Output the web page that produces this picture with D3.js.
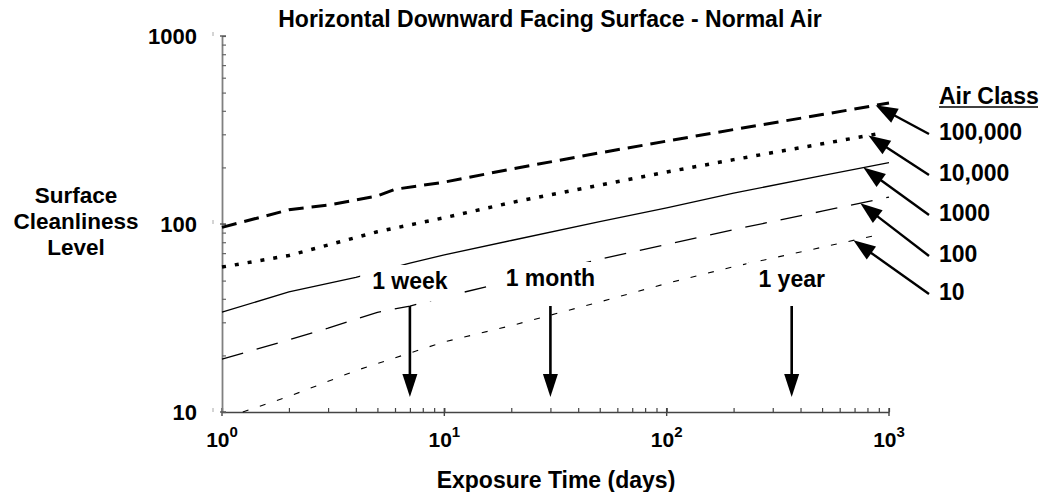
<!DOCTYPE html>
<html>
<head>
<meta charset="utf-8">
<script src="https://cdn.jsdelivr.net/npm/d3@7"></script>
<style>
  html, body { margin: 0; padding: 0; background: #fff; }
  svg { display: block; }
  text { font-family: "Liberation Sans", Arial, sans-serif; font-weight: bold; fill: #000; }
</style>
</head>
<body>
<svg id="chart" width="1044" height="492"></svg>
<script>
// ---- data ----
const chartTitle = "Horizontal Downward Facing Surface - Normal Air";
const xTitle = "Exposure Time (days)";
const yTitleLines = ["Surface", "Cleanliness", "Level"];
const xMajorTicks = [1, 10, 100, 1000];
const xTickExponents = ["0", "1", "2", "3"];
const yMajorTicks = [10, 100, 1000];
const yTickLabels = ["10", "100", "1000"];
const airClasses = ["100,000", "10,000", "1000", "100", "10"];

// [days, surface cleanliness level]
const class100000 = [[1, 96], [2, 119], [3, 126], [5, 141], [6, 153], [10, 167], [20, 196], [50, 239], [100, 276], [200, 318], [500, 382], [1000, 440]];
const class10000 = [[1, 59], [2, 68], [5, 91], [10, 108], [20, 130], [50, 161], [100, 189], [200, 220], [500, 267], [940, 305]];
const class1000 = [[1, 34], [2, 43.5], [4, 52], [7, 62], [10, 68.5], [20, 81.7], [50, 103], [100, 122], [200, 146], [500, 181], [1000, 212]];
const class100 = [[1, 19.1], [2, 24.2], [3, 27.9], [5, 33.9], [7, 36.6], [10, 40.9], [20, 50], [50, 65], [100, 77.8], [200, 93.3], [500, 117], [1000, 139]];
const class10 = [[1.24, 10], [2, 12.1], [4, 16.6], [7, 20.6], [10, 23.6], [20, 28.8], [50, 38.5], [100, 48.3], [200, 59.3], [500, 75.2], [870, 86.9]];
const seriesData = [class100000, class10000, class1000, class100, class10];
// day at which each legend arrow touches its curve
const arrowTipDays = [870, 808, 767, 743, 692];

// time markers
const markerDays = [7, 30, 365];
const markerLabels = ["1 week", "1 month", "1 year"];

// ---- styles ----
const lineStyles = [
  { w: 3, dash: "15,8" },
  { w: 3.5, dash: "4,9" },
  { w: 1.3, dash: null },
  { w: 1.3, dash: "22,14" },
  { w: 1.1, dash: "6,12" }
];

const svg = d3.select("#chart");
const x = d3.scaleLog().domain([1, 1000]).range([222, 889]);
const y = d3.scaleLog().domain([10, 1000]).range([412, 36]);

const minorX = [];
for (let e = 0; e < 3; e++) for (let k = 1; k <= 9; k++) minorX.push(k * Math.pow(10, e));
minorX.push(1000);
const minorY = [];
for (let e = 1; e < 3; e++) for (let k = 1; k <= 9; k++) minorY.push(k * Math.pow(10, e));
minorY.push(1000);

// ---- axes ----
const xAxisG = svg.append("g").attr("transform", "translate(0,412)")
  .call(d3.axisBottom(x).tickValues(minorX).tickSize(-4).tickSizeOuter(0).tickFormat(""));
xAxisG.select(".domain").attr("stroke", "#444").attr("stroke-width", 1.6);
xAxisG.selectAll(".tick line").attr("stroke", "#444").attr("stroke-width", 1.2);
xAxisG.selectAll(".major").data(xMajorTicks).enter().append("line")
  .attr("x1", d => x(d)).attr("x2", d => x(d)).attr("y1", -4).attr("y2", 4)
  .attr("stroke", "#444").attr("stroke-width", 1.4);

const yAxisG = svg.append("g").attr("transform", "translate(222,0)")
  .call(d3.axisLeft(y).tickValues(minorY).tickSize(-4).tickSizeOuter(0).tickFormat(""));
yAxisG.select(".domain").attr("stroke", "#808080").attr("stroke-width", 1.8);
yAxisG.selectAll(".tick line").attr("stroke", "#666").attr("stroke-width", 1.2);
yAxisG.selectAll(".major").data(yMajorTicks).enter().append("line")
  .attr("x1", -2).attr("x2", 4).attr("y1", d => y(d)).attr("y2", d => y(d))
  .attr("stroke", "#555").attr("stroke-width", 1.4);
yAxisG.selectAll(".mark").data(yMajorTicks).enter().append("line")
  .attr("x1", -9).attr("x2", -9).attr("y1", d => y(d) - 4).attr("y2", d => y(d))
  .attr("stroke", "#aaa").attr("stroke-width", 1);

// y tick labels
svg.selectAll(".ylab").data(yMajorTicks).enter().append("text")
  .attr("x", 197).attr("y", d => y(d)).attr("dy", "0.35em")
  .attr("text-anchor", "end").style("font-size", "22px")
  .text((d, i) => yTickLabels[i]);

// x tick labels with superscripts
const xl = svg.selectAll(".xlab").data(xMajorTicks).enter().append("text")
  .attr("x", d => x(d)).attr("y", 447).attr("text-anchor", "middle").style("font-size", "21px");
xl.append("tspan").text("10");
xl.append("tspan").attr("dy", -10).style("font-size", "15px").text((d, i) => xTickExponents[i]);

// titles
svg.append("text").attr("x", 550).attr("y", 27).attr("text-anchor", "middle")
  .style("font-size", "23px").text(chartTitle);
svg.append("text").attr("x", 556).attr("y", 488).attr("text-anchor", "middle")
  .style("font-size", "23px").text(xTitle);
svg.selectAll(".ytitle").data(yTitleLines).enter().append("text")
  .attr("x", 76).attr("y", (d, i) => 203 + i * 26).attr("text-anchor", "middle")
  .style("font-size", "22.5px").text(d => d);

// ---- series lines ----
const lineGen = d3.line().x(d => x(d[0])).y(d => y(d[1]));
svg.selectAll(".series").data(seriesData).enter().append("path")
  .attr("d", d => lineGen(d))
  .attr("fill", "none").attr("stroke", "#000")
  .attr("stroke-width", (d, i) => lineStyles[i].w)
  .attr("stroke-dasharray", (d, i) => lineStyles[i].dash);

// ---- arrow helper ----
function arrow(g, x1, y1, x2, y2, len, wid, sw) {
  const dx = x2 - x1, dy = y2 - y1, L = Math.hypot(dx, dy);
  const ux = dx / L, uy = dy / L;
  const bx = x2 - ux * len, by = y2 - uy * len;
  g.append("line").attr("x1", x1).attr("y1", y1).attr("x2", bx + ux * 2).attr("y2", by + uy * 2)
    .attr("stroke", "#000").attr("stroke-width", sw);
  g.append("polygon")
    .attr("points", [[x2, y2], [bx - uy * wid / 2, by + ux * wid / 2], [bx + uy * wid / 2, by - ux * wid / 2]].map(p => p.join(",")).join(" "))
    .attr("fill", "#000");
}

// ---- time markers ----
const mg = svg.append("g");
const markerBaselines = [289, 286, 287];
markerLabels.forEach((lab, i) => {
  const cx = x(markerDays[i]);
  const t = mg.append("text").attr("x", cx).attr("y", markerBaselines[i])
    .attr("text-anchor", "middle").style("font-size", "23px").text(lab);
  const bb = t.node().getBBox();
  mg.insert("rect", "text").attr("x", bb.x - 12).attr("y", markerBaselines[i] - 24)
    .attr("width", bb.width + 24).attr("height", 36).attr("fill", "#fff");
  arrow(mg, cx, 306, cx, 397, 23, 15, 2.6);
});

// ---- legend ----
const lg = svg.append("g");
lg.append("text").attr("x", 939).attr("y", 104).style("font-size", "23px").text("Air Class");
lg.append("line").attr("x1", 939).attr("x2", 1038).attr("y1", 107).attr("y2", 107)
  .attr("stroke", "#000").attr("stroke-width", 1.6);
const legendBaselines = [140, 181, 221, 262, 300];
function valueAt(series, d) {
  for (let i = 1; i < series.length; i++) {
    if (d <= series[i][0]) {
      const a = series[i - 1], b = series[i];
      const t = (Math.log(d) - Math.log(a[0])) / (Math.log(b[0]) - Math.log(a[0]));
      return Math.exp(Math.log(a[1]) + t * (Math.log(b[1]) - Math.log(a[1])));
    }
  }
  return series[series.length - 1][1];
}
airClasses.forEach((c, i) => {
  lg.append("text").attr("x", 939).attr("y", legendBaselines[i]).style("font-size", "23px").text(c);
  const tx = x(arrowTipDays[i]), ty = y(valueAt(seriesData[i], arrowTipDays[i]));
  arrow(lg, 929, legendBaselines[i] - 6, tx, ty, 22, 16, 2.4);
});
</script>
</body>
</html>
